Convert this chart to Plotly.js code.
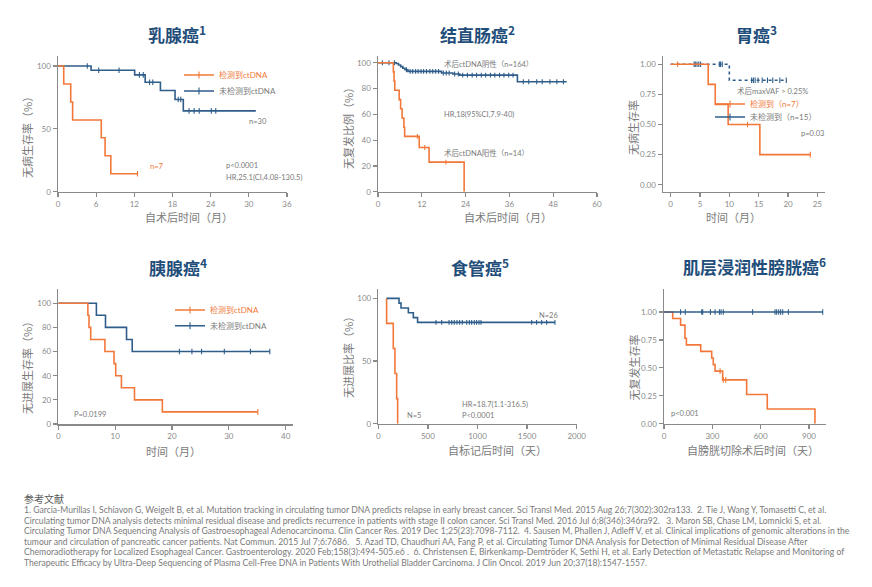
<!DOCTYPE html>
<html><head><meta charset="utf-8">
<script src="https://cdn.plot.ly/plotly-3.0.1.min.js"></script>
<style>html,body{margin:0;padding:0;background:#fff}#c{width:872px;height:587px}</style>
</head><body><div id="c"></div>
<script>
// ---------------- DATA ----------------
// 1 乳腺癌 (months, %)
const breastPosT = [0, 0.9, 2.0, 2.3, 6.8, 7.4, 8.3, 12.5];
const breastPosS = [100, 85.7, 71.4, 57.1, 42.9, 28.6, 14.3, 14.3];
const breastPosC = [12.5];
const breastNegT = [0, 5.2, 12.05, 13.7, 16.1, 18.4, 19.7, 31.1];
const breastNegS = [100, 96.7, 93.0, 87.1, 80.5, 73.4, 64.3, 64.3];
const breastNegC = [4.6, 6.4, 9.6, 12.8, 13.4, 14.4, 14.9, 18.9, 19.3, 20.6, 21.4, 22.2, 24.1, 24.8];
// 2 结直肠癌 (months, %)
const crcPosT = [0, 4.2, 4.4, 4.6, 5.8, 6.2, 6.6, 7.1, 7.3, 11.3, 14.0, 23.6];
const crcPosS = [100, 92.9, 85.7, 78.6, 71.4, 64.3, 57.1, 50.0, 42.9, 34.3, 22.9, 0];
const crcPosC = [10.8, 12.8, 18.6];
const crcNegT = [0, 5.0, 5.6, 6.2, 6.8, 7.4, 8.2, 17.4, 20.5, 22.4, 38.2, 51.7];
const crcNegS = [100, 99.4, 98.2, 97.0, 95.7, 94.5, 93.3, 92.0, 91.3, 90.4, 85.2, 85.2];
const crcNegC = [1.2, 3.0, 4.5, 7.8, 8.8, 9.5, 10.3, 11.0, 11.8, 12.5, 13.3, 14.2, 15.0, 15.8, 16.6, 17.9, 18.7, 19.5, 21.0, 22.0, 23.2, 24.5, 25.8, 27.0, 28.3, 29.5, 30.8, 32.0, 33.3, 34.5, 35.8, 37.0, 39.8, 41.3, 43.5, 45.0, 47.1, 49.0, 50.8];
// 3 胃癌 (months, proportion)
const gastricPosT = [0, 6.4, 7.6, 9.8, 15.2, 23.8];
const gastricPosS = [1, 0.833, 0.667, 0.5, 0.25, 0.25];
const gastricPosC = [1.2, 13.1, 23.8];
const gastricNegT = [0, 10.0, 19.8];
const gastricNegS = [1, 0.867, 0.867];
const gastricNegC = [4.0, 4.2, 4.5, 4.8, 5.1, 8.3, 8.5, 8.8, 13.8, 14.1, 14.4, 14.9, 15.6, 16.5, 17.4, 18.6, 19.7];
// 4 胰腺癌 (months, %)
const pancPosT = [0, 5.2, 5.4, 5.7, 8.2, 9.8, 10.1, 11.1, 13.4, 18.3, 35.1];
const pancPosS = [100, 90, 80, 70, 60, 50, 40, 30, 20, 10, 10];
const pancPosC = [35.1];
const pancNegT = [0, 6.7, 8.3, 12.0, 13.0, 37.2];
const pancNegS = [100, 90, 80, 70, 60, 60];
const pancNegC = [21.3, 23.5, 25.2, 29.2, 33.8, 37.2];
// 5 食管癌 (days, %)
const escPosT = [84, 84, 151, 168, 185, 195];
const escPosS = [100, 80, 60, 40, 20, 0];
const escNegT = [84, 209, 229, 303, 353, 396, 1781];
const escNegS = [100, 96.2, 92.3, 88.5, 84.6, 80.8, 80.8];
const escNegC = [582, 639, 713, 740, 766, 793, 820, 847, 891, 918, 941, 968, 991, 1015, 1035, 1546, 1596, 1647, 1697, 1781];
// 6 肌层浸润性膀胱癌 (days, proportion)
const bladPosT = [0, 54, 103, 130, 139, 228, 296, 306, 317, 364, 513, 641, 937];
const bladPosS = [1, 0.941, 0.882, 0.765, 0.706, 0.647, 0.588, 0.529, 0.471, 0.392, 0.261, 0.131, 0];
const bladPosC = [348, 368, 383];
const bladNegT = [0, 985];
const bladNegS = [1, 1];
const bladNegC = [103, 132, 234, 240, 288, 317, 344, 354, 368, 550, 689, 699, 712, 724, 737, 772, 985];

const titles = ['乳腺癌<sup>1</sup>', '结直肠癌<sup>2</sup>', '胃癌<sup>3</sup>', '胰腺癌<sup>4</sup>', '食管癌<sup>5</sup>', '肌层浸润性膀胱癌<sup>6</sup>'];
const xTitles = ['自术后时间（月）', '自术后时间（月）', '时间（月）', '时间（月）', '自标记后时间（天）', '自膀胱切除术后时间（天）'];
const yTitles = ['无病生存率（%）', '无复发比例（%）', '无病生存率', '无进展生存率（%）', '无进展比率（%）', '无复发生存率'];
const refLines = [
 '1. Garcia-Murillas I, Schiavon G, Weigelt B, et al. Mutation tracking in circulating tumor DNA predicts relapse in early breast cancer. Sci Transl Med. 2015 Aug 26;7(302):302ra133.  2. Tie J, Wang Y, Tomasetti C, et al.',
 'Circulating tumor DNA analysis detects minimal residual disease and predicts recurrence in patients with stage II colon cancer. Sci Transl Med. 2016 Jul 6;8(346):346ra92.   3. Maron SB, Chase LM, Lomnicki S, et al.',
 'Circulating Tumor DNA Sequencing Analysis of Gastroesophageal Adenocarcinoma. Clin Cancer Res. 2019 Dec 1;25(23):7098-7112.  4. Sausen M, Phallen J, Adleff V, et al. Clinical implications of genomic alterations in the',
 'tumour and circulation of pancreatic cancer patients. Nat Commun. 2015 Jul 7;6:7686.   5. Azad TD, Chaudhuri AA, Fang P, et al. Circulating Tumor DNA Analysis for Detection of Minimal Residual Disease After',
 'Chemoradiotherapy for Localized Esophageal Cancer. Gastroenterology. 2020 Feb;158(3):494-505.e6 .  6. Christensen E, Birkenkamp-Demtröder K, Sethi H, et al. Early Detection of Metastatic Relapse and Monitoring of',
 'Therapeutic Efficacy by Ultra-Deep Sequencing of Plasma Cell-Free DNA in Patients With Urothelial Bladder Carcinoma. J Clin Oncol. 2019 Jun 20;37(18):1547-1557.'
];

// ---------------- STYLE ----------------
const W = 872, H = 587;
const BLUE = '#2f5d8a', ORANGE = '#f2783a', TITLE = '#1f4e7a', GRAY = '#8a8a8a', TXT = '#7a7a7a';
const FONT = 'Lato, "Noto Sans CJK SC", sans-serif';
const CJK = '"Noto Sans CJK SC", sans-serif';
const px = v => v / W, py = v => 1 - v / H;

function survAt(t, s, c) { let v = s[0]; for (let i = 0; i < t.length; i++) { if (t[i] <= c) v = s[i]; } return v; }
function ref(k) { return k > 1 ? String(k) : ''; }
function step(t, s, color, k, dash) {
  return {x: t, y: s, mode: 'lines', line: {shape: 'hv', color: color, width: 1.6, dash: dash || 'solid'},
    xaxis: 'x' + ref(k), yaxis: 'y' + ref(k), showlegend: false, hoverinfo: 'skip'};
}
function cens(c, t, s, color, k, size) {
  return {x: c, y: c.map(v => survAt(t, s, v)), mode: 'markers',
    marker: {symbol: 'line-ns-open', size: size || 4, color: color, line: {width: 1.1, color: color}},
    xaxis: 'x' + ref(k), yaxis: 'y' + ref(k), showlegend: false, hoverinfo: 'skip'};
}
function legItem(name, color, leg, k, dash) {
  return {x: [null], y: [null], mode: 'lines+markers', name: name, legend: leg,
    line: {color: color, width: 1.6, dash: dash || 'solid'},
    marker: {symbol: 'line-ns-open', size: 5, color: color, line: {width: 1.1, color: color}},
    xaxis: 'x' + ref(k), yaxis: 'y' + ref(k), showlegend: true, hoverinfo: 'skip'};
}
const oSpan = s => '<span style="color:' + ORANGE + '">' + s + '</span>';

const data = [
  step(breastNegT, breastNegS, BLUE, 1), cens(breastNegC, breastNegT, breastNegS, BLUE, 1),
  step(breastPosT, breastPosS, ORANGE, 1), cens(breastPosC, breastPosT, breastPosS, ORANGE, 1),
  legItem(oSpan('检测到ctDNA'), ORANGE, 'legend', 1),
  legItem('未检测到ctDNA', BLUE, 'legend2', 1),

  step(crcNegT, crcNegS, BLUE, 2), cens(crcNegC, crcNegT, crcNegS, BLUE, 2, 3.5),
  step(crcPosT, crcPosS, ORANGE, 2), cens(crcPosC, crcPosT, crcPosS, ORANGE, 2, 3.5),

  step(gastricNegT, gastricNegS, BLUE, 3, 'dot'), cens(gastricNegC, gastricNegT, gastricNegS, BLUE, 3, 4),
  step(gastricPosT, gastricPosS, ORANGE, 3), cens(gastricPosC, gastricPosT, gastricPosS, ORANGE, 3, 4),
  legItem(oSpan('检测到（n=7）'), ORANGE, 'legend3', 3),
  legItem('未检测到（n=15）', BLUE, 'legend4', 3),

  step(pancNegT, pancNegS, BLUE, 4), cens(pancNegC, pancNegT, pancNegS, BLUE, 4),
  step(pancPosT, pancPosS, ORANGE, 4), cens(pancPosC, pancPosT, pancPosS, ORANGE, 4),
  legItem(oSpan('检测到ctDNA'), ORANGE, 'legend5', 4),
  legItem('未检测到ctDNA', BLUE, 'legend6', 4),

  step(escPosT, escPosS, ORANGE, 5),
  step(escNegT, escNegS, BLUE, 5), cens(escNegC, escNegT, escNegS, BLUE, 5, 3.5),

  step(bladPosT, bladPosS, ORANGE, 6), cens(bladPosC, bladPosT, bladPosS, ORANGE, 6, 4),
  step(bladNegT, bladNegS, BLUE, 6), cens(bladNegC, bladNegT, bladNegS, BLUE, 6, 4)
];

function ax(domPx, range, extra, isY) {
  const d = isY ? [py(domPx[1]), py(domPx[0])] : [px(domPx[0]), px(domPx[1])];
  return Object.assign({domain: d, range: range, showline: true, linecolor: GRAY, linewidth: 1.5,
    ticks: 'outside', ticklen: 4, tickwidth: 1.2, tickcolor: GRAY, showgrid: false, zeroline: false,
    tickfont: {family: FONT, size: 8, color: GRAY}, fixedrange: true}, extra);
}

const legFont = {family: FONT, size: 8, color: TXT};
const leg = (x, y) => ({x: px(x), y: py(y), xanchor: 'left', yanchor: 'middle', bgcolor: 'rgba(0,0,0,0)', borderwidth: 0, font: legFont});
const layout = {
  width: W, height: H, margin: {l: 0, r: 0, t: 0, b: 0}, paper_bgcolor: '#fff', plot_bgcolor: 'rgba(0,0,0,0)',
  font: {family: FONT, color: TXT},
  xaxis:  ax([58, 287], [0, 36], {anchor: 'y', tickvals: [0, 6, 12, 18, 24, 30, 36]}),
  yaxis:  ax([56, 191.7], [0, 108], {anchor: 'x', tickvals: [0, 50, 100]}, true),
  xaxis2: ax([378, 597], [0, 60], {anchor: 'y2', tickvals: [0, 12, 24, 36, 48, 60]}),
  yaxis2: ax([56, 191.7], [0, 105.2], {anchor: 'x2', tickvals: [0, 20, 40, 60, 80, 100]}, true),
  xaxis3: ax([663, 825], [-1.3, 26.3], {anchor: 'y3', tickvals: [0, 5, 10, 15, 20, 25]}),
  yaxis3: ax([56, 191.7], [-0.058, 1.069], {anchor: 'x3', tickvals: [0, 0.25, 0.5, 0.75, 1], tickformat: '.2f'}, true),
  xaxis4: ax([58.3, 293], [0, 41.28], {anchor: 'y4', tickvals: [0, 10, 20, 30, 40]}),
  yaxis4: ax([289, 424], [0, 111.8], {anchor: 'x4', tickvals: [0, 20, 40, 60, 80, 100]}, true),
  xaxis5: ax([378.3, 576.7], [0, 2000], {anchor: 'y5', tickvals: [0, 500, 1000, 1500, 2000]}),
  yaxis5: ax([289.3, 423.7], [0, 107.2], {anchor: 'x5', tickvals: [0, 50, 100]}, true),
  xaxis6: ax([664, 826], [0, 1005.5], {anchor: 'y6', tickvals: [0, 300, 600, 900]}),
  yaxis6: ax([289.3, 423.7], [0, 1.203], {anchor: 'x6', tickvals: [0, 0.25, 0.5, 0.75, 1], tickformat: '.2f'}, true),
  legend:  leg(179, 75),
  legend2: leg(179, 91),
  legend3: leg(710, 104),
  legend4: leg(710, 117),
  legend5: leg(170, 310),
  legend6: leg(170, 325.7),
  annotations: [], showlegend: true
};

const A = layout.annotations;
function txt(text, x, y, opt) {
  A.push(Object.assign({text: text, x: px(x), y: py(y), xref: 'paper', yref: 'paper', showarrow: false,
    xanchor: 'left', yanchor: 'middle', font: {family: FONT, size: 7.5, color: TXT}}, opt || {}));
}
// titles
const titlePos = [[177, 34], [477, 34], [756, 34], [178, 267], [479.5, 267], [754, 266]];
titles.forEach((t, i) => txt(t, titlePos[i][0], titlePos[i][1], {xanchor: 'center', font: {family: CJK, size: 17, color: TITLE, weight: 700}}));
// axis titles
const xtPos = [[189, 217], [508, 217], [733, 217], [173, 450.7], [497.5, 450], [753, 450]];
xTitles.forEach((t, i) => txt(t, xtPos[i][0], xtPos[i][1], {xanchor: 'center', font: {family: CJK, size: 11, color: TXT}}));
const ytPos = [[27, 135], [348, 126], [633, 128], [27, 365], [348, 355], [633, 367.5]];
yTitles.forEach((t, i) => txt(t, ytPos[i][0], ytPos[i][1], {xanchor: 'center', textangle: -90, font: {family: CJK, size: 11, color: TXT}}));
// in-plot notes
txt('n=30', 247, 122);
txt('n=7', 148, 166, {font: {family: FONT, size: 7.5, color: ORANGE}});
txt('p&lt;0.0001', 224, 165);
txt('HR,25.1(CI,4.08-130.5)', 224, 177);
txt('术后ctDNA阴性（n=164）', 442, 64);
txt('HR,18(95%CI,7.9-40)', 442, 114);
txt('术后ctDNA阳性（n=14）', 442, 153);
txt('术后maxVAF &gt; 0.25%', 735, 91.5);
txt('p=0.03', 799, 134);
txt('P=0.0199', 72, 414);
txt('N=26', 537, 315);
txt('N=5', 405, 415.7);
txt('HR=18.7(1.1-316.5)', 460, 404);
txt('P&lt;0.0001', 460, 415.7);
txt('p&lt;0.001', 669, 413);
// references
txt('参考文献', 22, 498, {font: {family: CJK, size: 10, color: '#5a5a5a'}});
refLines.forEach((l, i) => txt(l, 22, 510 + i * 10.6, {font: {family: FONT, size: 8.6, color: TXT}}));

Plotly.newPlot('c', data, layout, {displayModeBar: false, staticPlot: true});
</script></body></html>
